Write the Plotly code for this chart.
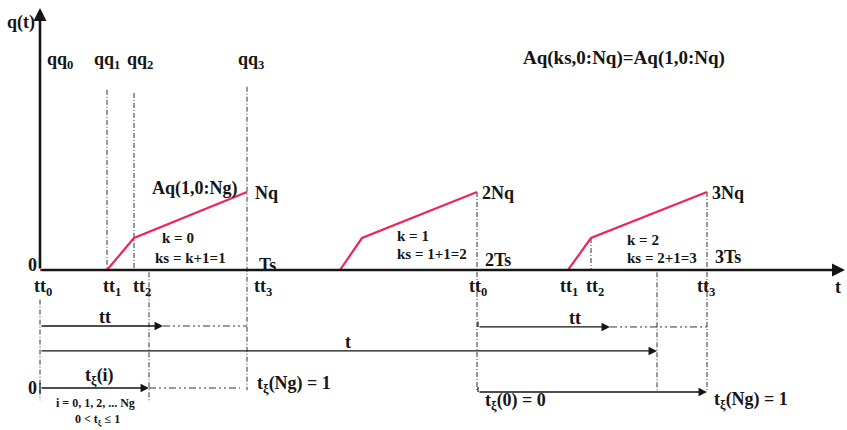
import plotly.graph_objects as go

# ---- schedule data (t in 10 ms units, q normalised so that Nq = 1) ----
ramp_start = [6.7, 30.0, 52.8]      # tt1 of each cycle
ramp_knee = [9.4, 32.2, 55.1]       # tt2 of each cycle
ramp_end = [20.7, 43.7, 66.7]       # tt3 = Ts, 2Ts, 3Ts
q_knee = [0.41, 0.41, 0.41]
q_end = [1.0, 1.0, 1.0]
cycle_start = [0.0, 20.7, 43.7]

top_labels = ["Nq", "2Nq", "3Nq"]
end_labels = ["Ts", "2Ts", "3Ts"]
k_labels = ["k = 0", "k = 1", "k = 2"]
ks_labels = ["ks = k+1=1", "ks = 1+1=2", "ks = 2+1=3"]

t_axis_end = 80.5
q_axis_top = 3.36

# ---- build the piecewise q(t) curve ----
t_red, q_red = [], []
for c0, a, b, e, qk, qe in zip(cycle_start, ramp_start, ramp_knee, ramp_end, q_knee, q_end):
    t_red += [c0, a, b, e, None]
    q_red += [0, 0, qk, qe, None]

RED = "#ef2458"
INK = "#151515"
FONT = "Liberation Serif"
DASHDOT = "5px,2px,1px,2px"
DASHDOTDOT = "7px,3px,2px,3px,2px,3px"

fig = go.Figure()

# dash-dot guide lines
guides = [
    (ramp_start[0], 2.31, 0), (ramp_knee[0], 2.27, 0.02), (10.9, -0.03, -1.67),
    (0.0, -0.38, -1.67), (ramp_end[0], 2.35, -1.54), (ramp_end[1], q_end[1], -1.56),
    (ramp_knee[2], q_knee[2], 0), (61.7, -0.03, -1.56), (ramp_end[2], q_end[2], -1.56),
]
for gx, y0, y1 in guides:
    fig.add_trace(go.Scatter(x=[gx, gx], y=[y0, y1], mode="lines",
                             line=dict(color="#333", width=1, dash=DASHDOT),
                             hoverinfo="skip", showlegend=False))

# dash-dot-dot continuations of the tt / t_xi arrows
for xa, xb, yy in [(12.3, 20.7, -0.718), (10.9, 20.0, -1.513), (57.0, 66.7, -0.73)]:
    fig.add_trace(go.Scatter(x=[xa, xb], y=[yy, yy], mode="lines",
                             line=dict(color="#333", width=1, dash=DASHDOTDOT),
                             hoverinfo="skip", showlegend=False))

# corner ticks at the start of the brackets
fig.add_trace(go.Scatter(x=[43.8, 43.8, None, 43.8, 43.8, None, 0, 0],
                         y=[-0.66, -0.73, None, -1.50, -1.564, None, -1.45, -1.58],
                         mode="lines", line=dict(color=INK, width=1.2),
                         hoverinfo="skip", showlegend=False))

# main axes (drawn as arrows)
fig.add_annotation(x=t_axis_end, y=0, ax=0, ay=0, xref="x", yref="y", axref="x", ayref="y",
                   showarrow=True, arrowhead=2, arrowsize=1, arrowwidth=2.6, arrowcolor=INK, text="")
fig.add_annotation(x=0, y=q_axis_top, ax=0, ay=0, xref="x", yref="y", axref="x", ayref="y",
                   showarrow=True, arrowhead=2, arrowsize=1, arrowwidth=2.6, arrowcolor=INK, text="")

# q(t) curve
fig.add_trace(go.Scatter(x=t_red, y=q_red, mode="lines",
                         line=dict(color=RED, width=2.2), connectgaps=False,
                         hoverinfo="skip", showlegend=False))

# time brackets below the axis
for x0, x1, yy in [(0, 12.3, -0.718), (0, 61.7, -1.038), (0, 10.9, -1.513),
                   (43.8, 57.0, -0.73), (43.8, 66.7, -1.564)]:
    fig.add_annotation(x=x1, y=yy, ax=x0, ay=yy, xref="x", yref="y", axref="x", ayref="y",
                       showarrow=True, arrowhead=2, arrowsize=1.3, arrowwidth=1.3,
                       arrowcolor=INK, text="")


def label(x, y, text, size=18, anchor="center"):
    fig.add_annotation(x=x, y=y, xref="x", yref="y", text="<b>" + text + "</b>",
                       showarrow=False, xanchor=anchor, yanchor="middle",
                       font=dict(family=FONT, size=size, color=INK))


label(-1.9, 3.17, "q(t)")
label(2.0, 2.69, "qq<sub>0</sub>")
label(6.7, 2.69, "qq<sub>1</sub>")
label(10.0, 2.69, "qq<sub>2</sub>")
label(21.1, 2.69, "qq<sub>3</sub>")
label(58.4, 2.72, "Aq(ks,0:Nq)=Aq(1,0:Nq)", size=19)
label(15.5, 1.05, "Aq(1,0:Ng)")
label(-0.8, 0.06, "0")

top_x = [21.3, 44.0, 67.0]
end_x = [21.7, 44.3, 67.3]
end_y = [0.06, 0.13, 0.17]
k_x = [12.0, 35.5, 58.5]
k_y = [0.41, 0.44, 0.39]
ks_x = [11.3, 35.5, 58.5]
ks_y = [0.16, 0.20, 0.16]
for i in range(3):
    label(top_x[i], 0.99, top_labels[i], anchor="left")
    label(end_x[i], end_y[i], end_labels[i], anchor="left")
    label(k_x[i], k_y[i], k_labels[i], size=15, anchor="left")
    label(ks_x[i], ks_y[i], ks_labels[i], size=15, anchor="left")

for x, s in [(0.3, "0"), (7.2, "1"), (10.2, "2"), (22.3, "3"),
             (43.8, "0"), (52.9, "1"), (55.5, "2"), (66.6, "3")]:
    label(x, -0.22, "tt<sub>" + s + "</sub>")
label(79.8, -0.22, "t")

label(6.5, -0.60, "tt")
label(53.5, -0.62, "tt")
label(30.8, -0.92, "t")
label(5.9, -1.37, "t<sub>ξ</sub>(i)")
label(-0.8, -1.51, "0")
label(21.5, -1.47, "t<sub>ξ</sub>(Ng) = 1", anchor="left")
label(5.5, -1.70, "i = 0, 1, 2, ... Ng", size=12)
label(5.7, -1.92, "0 &lt; t<sub>ξ</sub> ≤ 1", size=12)
label(44.3, -1.69, "t<sub>ξ</sub>(0) = 0", anchor="left")
label(67.2, -1.67, "t<sub>ξ</sub>(Ng) = 1", anchor="left")

fig.update_layout(
    width=847, height=430, autosize=False,
    margin=dict(l=0, r=0, t=0, b=0),
    plot_bgcolor="white", paper_bgcolor="white",
    xaxis=dict(range=[-4, 80.7], visible=False, fixedrange=True),
    yaxis=dict(range=[-2.0513, 3.4615], visible=False, fixedrange=True),
)

fig.write_html("out.html", include_plotlyjs=True, config={"displayModeBar": False})
